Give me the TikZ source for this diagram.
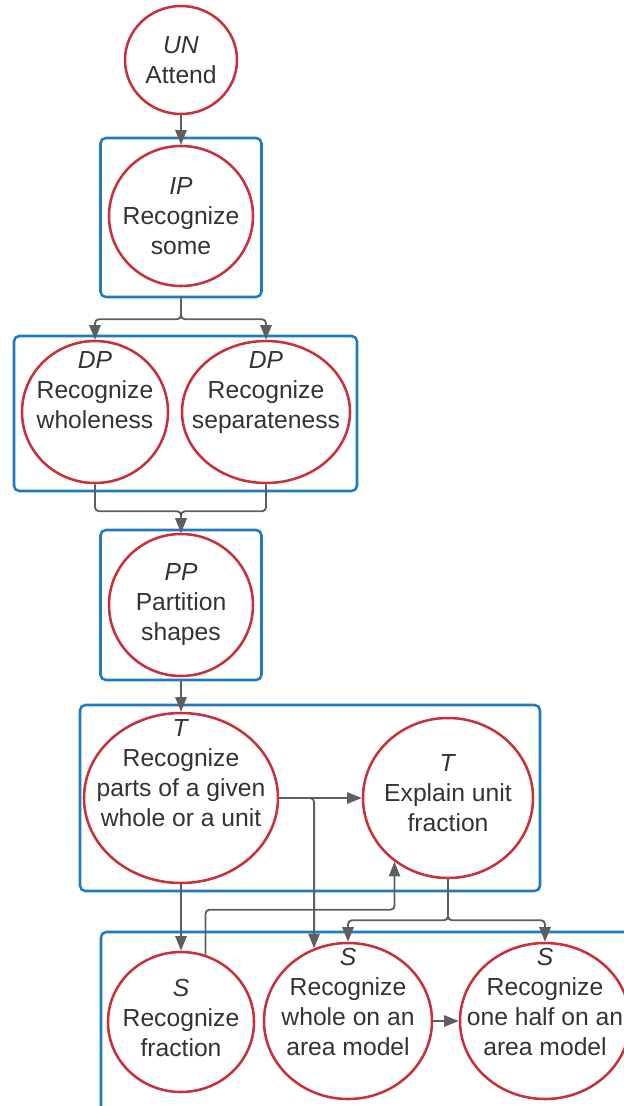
\documentclass[tikz,border=0pt]{standalone}
\usepackage{fontspec}
\setmainfont{Liberation Sans}
\usepackage{xcolor}
\usetikzlibrary{arrows.meta,shapes.geometric}
\definecolor{ringred}{HTML}{C8303C}
\definecolor{boxblue}{HTML}{1F7BC1}
\definecolor{linegray}{HTML}{5E5E5E}
\definecolor{ink}{HTML}{333333}

\begin{document}
\begin{tikzpicture}[x=0.75pt,y=-0.75pt,
  blob/.style={ellipse,draw=ringred,line width=1.9pt,inner sep=0pt},
  grp/.style={rectangle,draw=boxblue,line width=1.9pt,rounded corners=4pt,inner sep=0pt},
  txt/.style={align=center,text=ink,inner sep=0pt,font=\fontsize{18.5}{22.5}\selectfont},
  link/.style={draw=linegray,line width=1.4pt,rounded corners=3pt,-{Triangle[length=11pt,width=8.5pt]}}]
\useasboundingbox (0,0) rectangle (624,1106);
\clip (0,0) rectangle (624,1106);

% group boxes
\node (ipbox) at (181,217.5)[grp,minimum width=120.75pt,minimum height=119.25pt] {};
\node (dpbox) at (185.5,413.5)[grp,minimum width=257.25pt,minimum height=116.25pt] {};
\node (ppbox) at (181,605)[grp,minimum width=120.75pt,minimum height=112.5pt] {};
\node (tbox) at (310,798)[grp,minimum width=345pt,minimum height=139.5pt] {};
\node (sbox) at (410.5,1041)[grp,minimum width=464.25pt,minimum height=163.5pt] {};

% stages
\node (un) at (181,60)[blob,minimum width=84pt,minimum height=81pt] {};
\node (unt) at (un)[txt] {\textit{UN}\\Attend};
\node (ip) at (181,216)[blob,minimum width=108pt,minimum height=105pt] {};
\node (ipt) at (ip)[txt] {\textit{IP}\\Recognize\\some};
\node (dp1) at (95,412)[blob,minimum width=109.5pt,minimum height=106.5pt] {};
\node (dp1t) at ([yshift=16.5pt]dp1)[txt] {\textit{DP}\\Recognize\\wholeness};
\node (dp2) at (266,412)[blob,minimum width=126pt,minimum height=106.5pt] {};
\node (dp2t) at ([yshift=14.5pt]dp2)[txt] {\textit{DP}\\Recognize\\separateness};
\node (pp) at (181,605)[blob,minimum width=108pt,minimum height=106.5pt] {};
\node (ppt) at (pp)[txt] {\textit{PP}\\Partition\\shapes};
\node (t1) at (181,798)[blob,minimum width=145.5pt,minimum height=127.5pt] {};
\node (t1t) at ([yshift=18.75pt]t1)[txt] {\textit{T}\\Recognize\\parts of a given\\whole or a unit};
\node (t2) at (448,798)[blob,minimum width=127.5pt,minimum height=120pt] {};
\node (t2t) at ([yshift=3.75pt]t2)[txt] {\textit{T}\\Explain unit\\fraction};
\node (s1) at (181,1022)[blob,minimum width=109.5pt,minimum height=105pt] {};
\node (s1t) at ([yshift=3pt]s1)[txt] {\textit{S}\\Recognize\\fraction};
\node (s2) at (348,1021)[blob,minimum width=126pt,minimum height=117pt] {};
\node (s2t) at ([yshift=14pt]s2)[txt] {\textit{S}\\Recognize\\whole on an\\area model};
\node (s3) at (545,1021)[blob,minimum width=127.5pt,minimum height=117pt] {};
\node (s3t) at ([yshift=14pt]s3)[txt] {\textit{S}\\Recognize\\one half on an\\area model};

% connectors
\draw[link] (un.south) -- (ip.north);
\draw[link] (ipbox.south) -- ++(0,21) -| (dp1.north);
\draw[link] (ipbox.south) -- ++(0,21) -| (dp2.north);
\draw[link] (dp1.south) -- ++(0,27) -| (pp.north);
\draw[link] (dp2.south) -- ++(0,27) -| (pp.north);
\draw[link] (ppbox.south) -- (t1.north);
\draw[link] (t1.east) -- (t2.west);
\draw[link] (t1.east) -| (s2.115);
\draw[link] (t1.south) -- (s1.north);
\draw[link] (s1.70) -- ++(0,-45) -| (t2.230);
\draw[link] (t2.south) -- ++(0,41) -| (s2.north);
\draw[link] (t2.south) -- ++(0,41) -| (s3.north);
\draw[link] (s2.east) -- (s3.west);
\end{tikzpicture}
\end{document}
